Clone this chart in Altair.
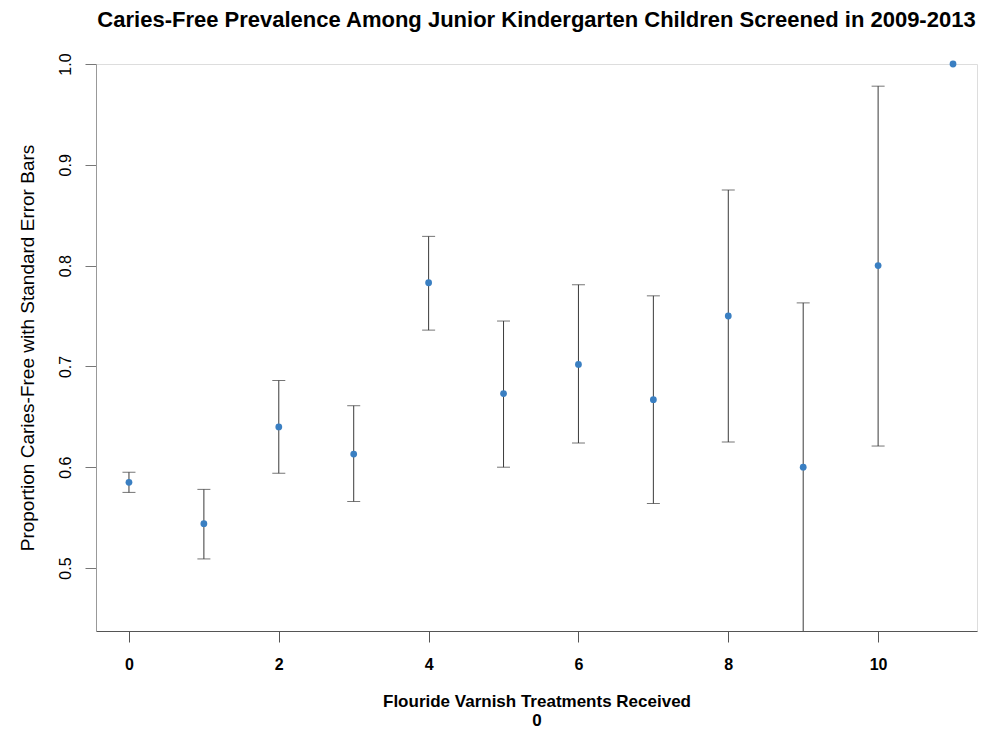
import altair as alt
import pandas as pd

treatments = [0, 1, 2, 3, 4, 5, 6, 7, 8, 9, 10, 11]
proportion = [0.585, 0.544, 0.640, 0.613, 0.783, 0.673, 0.702, 0.667, 0.750, 0.600, 0.800, 1.000]
upper = [0.595, 0.578, 0.686, 0.661, 0.829, 0.745, 0.781, 0.770, 0.875, 0.763, 0.978, 1.000]
lower = [0.575, 0.509, 0.594, 0.566, 0.736, 0.600, 0.624, 0.564, 0.625, 0.437, 0.621, 1.000]

df = pd.DataFrame({"t": treatments, "p": proportion, "hi": upper, "lo": lower})
eb = df[df["t"] < 11]

FONT = "Liberation Sans"
xs = alt.Scale(domain=[-0.44, 11.32], nice=False, zero=False)
ys = alt.Scale(domain=[0.4375, 1.0], nice=False, zero=False)

x_axis = alt.Axis(
    values=[0, 2, 4, 6, 8, 10], format="d", grid=False,
    title=["Flouride Varnish Treatments Received", "0"],
    titleFont=FONT, titleFontSize=17, titleFontWeight="bold", titleColor="#000",
    titleLineHeight=19, titlePadding=21,
    labelFont=FONT, labelFontSize=16, labelFontWeight="bold", labelColor="#000",
    labelPadding=14, tickSize=11, tickColor="#555", domainColor="#555",
)
y_axis = alt.Axis(
    values=[0.5, 0.6, 0.7, 0.8, 0.9, 1.0], format=".1f", grid=False,
    title="Proportion Caries-Free with Standard Error Bars",
    titleFont=FONT, titleFontSize=19, titleFontWeight="normal", titleColor="#000",
    titlePadding=20,
    labelFont=FONT, labelFontSize=16, labelColor="#000", labelAngle=270,
    labelAlign="center", labelBaseline="bottom", labelPadding=12,
    tickSize=11, tickColor="#777", domainColor="#999",
)

rules = alt.Chart(eb).mark_rule(color="#3a3a3a", strokeWidth=1, clip=True).encode(
    x=alt.X("t:Q", scale=xs, axis=x_axis),
    y=alt.Y("lo:Q", scale=ys, axis=y_axis),
    y2="hi:Q",
)
caps_hi = alt.Chart(eb).mark_tick(color="#3a3a3a", orient="horizontal", size=13, thickness=1, clip=True).encode(
    x=alt.X("t:Q", scale=xs), y=alt.Y("hi:Q", scale=ys)
)
caps_lo = alt.Chart(eb[eb["lo"] > 0.44]).mark_tick(color="#3a3a3a", orient="horizontal", size=13, thickness=1, clip=True).encode(
    x=alt.X("t:Q", scale=xs), y=alt.Y("lo:Q", scale=ys)
)
points = alt.Chart(df).mark_circle(color="#3a7fc2", size=46, opacity=1).encode(
    x=alt.X("t:Q", scale=xs), y=alt.Y("p:Q", scale=ys)
)

chart = alt.layer(rules, caps_hi, caps_lo, points).properties(
    width=881, height=567,
    title=alt.TitleParams(
        "Caries-Free Prevalence Among Junior Kindergarten Children Screened in 2009-2013",
        font=FONT, fontSize=22, fontWeight="bold", color="#000", anchor="middle", offset=21,
    ),
    autosize=alt.AutoSizeParams(type="none"),
    padding={"left": 88, "top": 56, "right": 1, "bottom": 98},
).configure_view(stroke="#999", strokeWidth=1).configure(background="white")

chart.save("out.html", embed_options={"renderer": "svg", "actions": False})
